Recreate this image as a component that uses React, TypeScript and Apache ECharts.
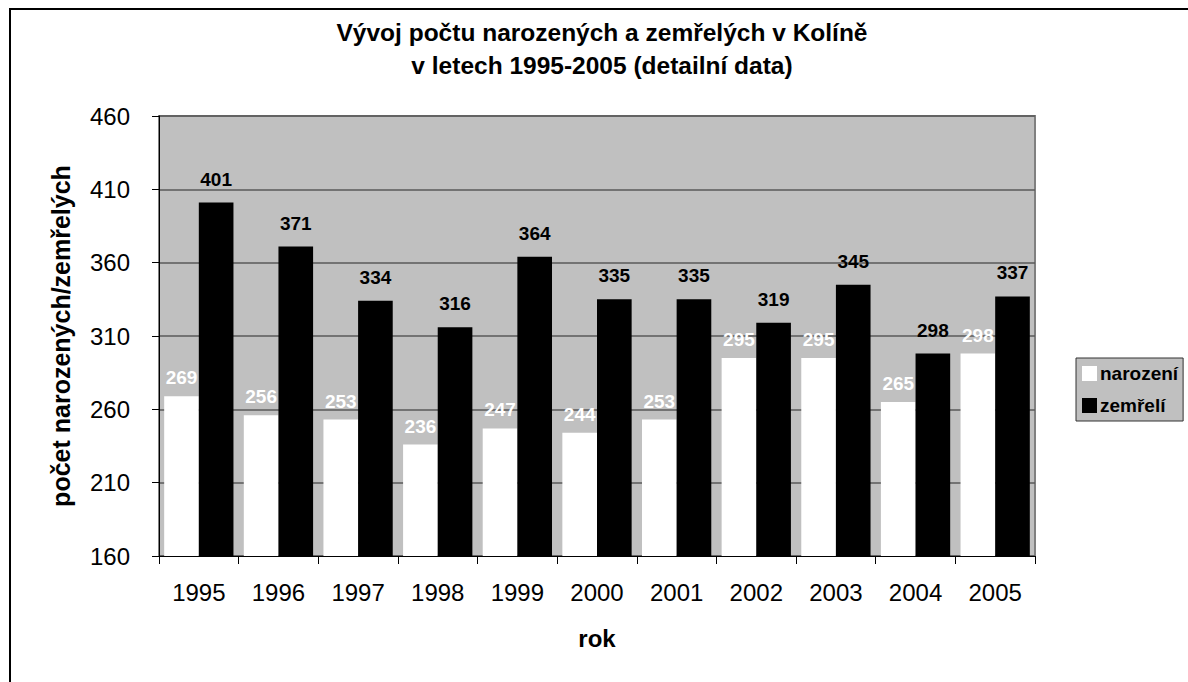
import React, { useEffect, useRef } from "react";
import * as echarts from "echarts";

const years = ["1995", "1996", "1997", "1998", "1999", "2000", "2001", "2002", "2003", "2004", "2005"];
const narozeni = [269, 256, 253, 236, 247, 244, 253, 295, 295, 265, 298];
const zemreli = [401, 371, 334, 316, 364, 335, 335, 319, 345, 298, 337];
const yTicks = { min: 160, max: 460, interval: 50 };

const FONT = "'Liberation Sans', Arial, sans-serif";

export default function App() {
  const ref = useRef<HTMLDivElement>(null);
  useEffect(() => {
    if (!ref.current) return;
    const chart = echarts.init(ref.current, undefined, { renderer: "svg" });
    chart.setOption({
      animation: false,
      backgroundColor: "#ffffff",
      textStyle: { fontFamily: FONT },
      title: {
        text: "Vývoj počtu narozených a zemřelých v Kolíně\nv letech 1995-2005 (detailní data)",
        left: 597,
        textAlign: "center",
        top: 11,
        textStyle: { fontFamily: FONT, fontSize: 24.5, fontWeight: "bold", color: "#000", lineHeight: 33 },
      },
      graphic: [
        {
          type: "rect",
          shape: { x: 10, y: 9, width: 1400, height: 900 },
          style: { fill: "none", stroke: "#000", lineWidth: 2 },
          silent: true,
        },
      ],
      legend: {
        orient: "vertical",
        left: 1076,
        top: 358,
        backgroundColor: "#c0c0c0",
        borderColor: "#333",
        borderWidth: 1,
        borderRadius: 0,
        padding: [6, 5, 6, 6],
        itemWidth: 15,
        itemHeight: 15,
        itemGap: 13,
        icon: "rect",
        textStyle: { fontFamily: FONT, fontSize: 19, fontWeight: "bold", color: "#000", padding: [0, 0, 0, -2] },
        data: ["narození", "zemřelí"],
      },
      grid: {
        left: 159,
        top: 116,
        right: 153,
        bottom: 126,
        show: true,
        backgroundColor: "#c0c0c0",
        borderColor: "#808080",
        borderWidth: 2,
      },
      xAxis: {
        type: "category",
        data: years,
        name: "rok",
        nameLocation: "middle",
        nameGap: 70,
        nameTextStyle: { fontFamily: FONT, fontSize: 24, fontWeight: "bold", color: "#000" },
        axisLine: { lineStyle: { color: "#000", width: 1 } },
        axisTick: { show: true, length: 8, lineStyle: { color: "#000" } },
        axisLabel: { fontFamily: FONT, fontSize: 24, color: "#000", margin: 24 },
      },
      yAxis: {
        type: "value",
        min: yTicks.min,
        max: yTicks.max,
        interval: yTicks.interval,
        name: "počet narozených/zemřelých",
        nameLocation: "middle",
        nameGap: 86,
        nameTextStyle: { fontFamily: FONT, fontSize: 25, fontWeight: "bold", color: "#000" },
        axisLine: { show: true, lineStyle: { color: "#000", width: 1 } },
        axisTick: { show: true, length: 7, lineStyle: { color: "#000" } },
        axisLabel: { fontFamily: FONT, fontSize: 24, color: "#000", margin: 29 },
        splitLine: { show: true, lineStyle: { color: "#5a5a5a", width: 1.5 } },
      },
      series: [
        {
          name: "narození",
          type: "bar",
          data: narozeni,
          barGap: "0%",
          barCategoryGap: "13%",
          itemStyle: { color: "#ffffff" },
          label: {
            show: true,
            position: "top",
            distance: 9,
            fontFamily: FONT,
            fontSize: 19,
            fontWeight: "bold",
            color: "#ffffff",
          },
        },
        {
          name: "zemřelí",
          type: "bar",
          data: zemreli,
          barGap: "0%",
          barCategoryGap: "13%",
          itemStyle: { color: "#000000" },
          label: {
            show: true,
            position: "top",
            distance: 14,
            fontFamily: FONT,
            fontSize: 19,
            fontWeight: "bold",
            color: "#000000",
          },
        },
      ],
    });
    return () => chart.dispose();
  }, []);
  return <div ref={ref} style={{ position: "absolute", left: 0, top: 0, width: 1188, height: 682 }} />;
}
